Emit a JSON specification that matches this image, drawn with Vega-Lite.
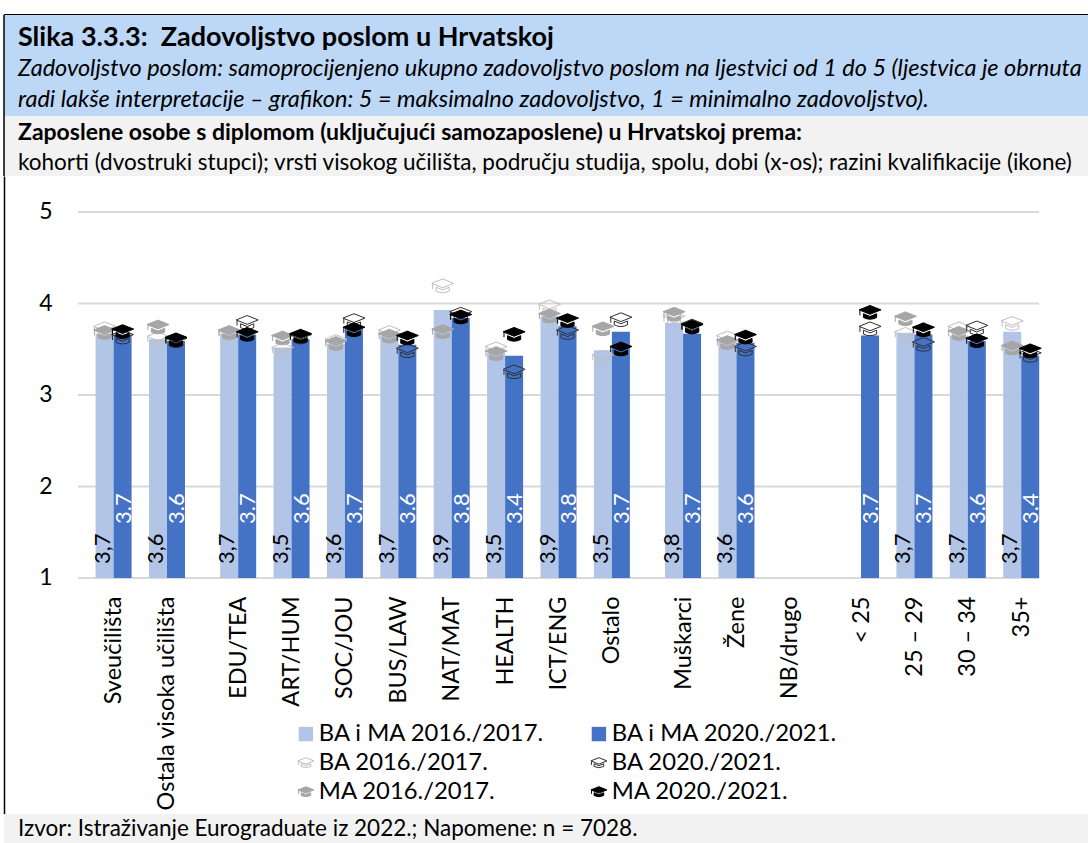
{"$schema":"https://vega.github.io/schema/vega-lite/v6.json","background":"white","padding":{"left":3,"top":13,"right":0,"bottom":0},"spacing":0,"bounds":"flush","config":{"view":{"stroke":null},"font":"Lato","text":{"font":"Lato"}},
"datasets":{"vals":[
{"cat":"Sveučilišta","series":"BA i MA 2016./2017.","value":3.67,"label":"3,7"},{"cat":"Sveučilišta","series":"BA i MA 2020./2021.","value":3.66,"label":"3.7"},{"cat":"Sveučilišta","series":"BA 2016./2017.","value":3.72},{"cat":"Sveučilišta","series":"MA 2016./2017.","value":3.68},{"cat":"Sveučilišta","series":"BA 2020./2021.","value":3.63},{"cat":"Sveučilišta","series":"MA 2020./2021.","value":3.69},
{"cat":"Ostala visoka učilišta","series":"BA i MA 2016./2017.","value":3.61,"label":"3,6"},{"cat":"Ostala visoka učilišta","series":"BA i MA 2020./2021.","value":3.59,"label":"3.6"},{"cat":"Ostala visoka učilišta","series":"BA 2016./2017.","value":3.61},{"cat":"Ostala visoka učilišta","series":"MA 2016./2017.","value":3.74},{"cat":"Ostala visoka učilišta","series":"BA 2020./2021.","value":3.59},{"cat":"Ostala visoka učilišta","series":"MA 2020./2021.","value":3.6},
{"cat":"EDU/TEA","series":"BA i MA 2016./2017.","value":3.67,"label":"3,7"},{"cat":"EDU/TEA","series":"BA i MA 2020./2021.","value":3.66,"label":"3.7"},{"cat":"EDU/TEA","series":"BA 2016./2017.","value":3.67},{"cat":"EDU/TEA","series":"MA 2016./2017.","value":3.68},{"cat":"EDU/TEA","series":"BA 2020./2021.","value":3.79},{"cat":"EDU/TEA","series":"MA 2020./2021.","value":3.66},
{"cat":"ART/HUM","series":"BA i MA 2016./2017.","value":3.52,"label":"3,5"},{"cat":"ART/HUM","series":"BA i MA 2020./2021.","value":3.61,"label":"3.6"},{"cat":"ART/HUM","series":"BA 2016./2017.","value":3.49},{"cat":"ART/HUM","series":"MA 2016./2017.","value":3.62},{"cat":"ART/HUM","series":"BA 2020./2021.","value":3.63},{"cat":"ART/HUM","series":"MA 2020./2021.","value":3.64},
{"cat":"SOC/JOU","series":"BA i MA 2016./2017.","value":3.56,"label":"3,6"},{"cat":"SOC/JOU","series":"BA i MA 2020./2021.","value":3.72,"label":"3.7"},{"cat":"SOC/JOU","series":"BA 2016./2017.","value":3.58},{"cat":"SOC/JOU","series":"MA 2016./2017.","value":3.56},{"cat":"SOC/JOU","series":"BA 2020./2021.","value":3.81},{"cat":"SOC/JOU","series":"MA 2020./2021.","value":3.71},
{"cat":"BUS/LAW","series":"BA i MA 2016./2017.","value":3.65,"label":"3,7"},{"cat":"BUS/LAW","series":"BA i MA 2020./2021.","value":3.55,"label":"3.6"},{"cat":"BUS/LAW","series":"BA 2016./2017.","value":3.68},{"cat":"BUS/LAW","series":"MA 2016./2017.","value":3.64},{"cat":"BUS/LAW","series":"BA 2020./2021.","value":3.48},{"cat":"BUS/LAW","series":"MA 2020./2021.","value":3.62},
{"cat":"NAT/MAT","series":"BA i MA 2016./2017.","value":3.93,"label":"3,9"},{"cat":"NAT/MAT","series":"BA i MA 2020./2021.","value":3.84,"label":"3.8"},{"cat":"NAT/MAT","series":"BA 2016./2017.","value":4.19},{"cat":"NAT/MAT","series":"MA 2016./2017.","value":3.69},{"cat":"NAT/MAT","series":"BA 2020./2021.","value":3.88},{"cat":"NAT/MAT","series":"MA 2020./2021.","value":3.85},
{"cat":"HEALTH","series":"BA i MA 2016./2017.","value":3.46,"label":"3,5"},{"cat":"HEALTH","series":"BA i MA 2020./2021.","value":3.43,"label":"3.4"},{"cat":"HEALTH","series":"BA 2016./2017.","value":3.5},{"cat":"HEALTH","series":"MA 2016./2017.","value":3.45},{"cat":"HEALTH","series":"BA 2020./2021.","value":3.25},{"cat":"HEALTH","series":"MA 2020./2021.","value":3.66},
{"cat":"ICT/ENG","series":"BA i MA 2016./2017.","value":3.86,"label":"3,9"},{"cat":"ICT/ENG","series":"BA i MA 2020./2021.","value":3.75,"label":"3.8"},{"cat":"ICT/ENG","series":"BA 2016./2017.","value":3.96},{"cat":"ICT/ENG","series":"MA 2016./2017.","value":3.86},{"cat":"ICT/ENG","series":"BA 2020./2021.","value":3.68},{"cat":"ICT/ENG","series":"MA 2020./2021.","value":3.81},
{"cat":"Ostalo","series":"BA i MA 2016./2017.","value":3.49,"label":"3,5"},{"cat":"Ostalo","series":"BA i MA 2020./2021.","value":3.69,"label":"3.7"},{"cat":"Ostalo","series":"BA 2016./2017.","value":3.41},{"cat":"Ostalo","series":"MA 2016./2017.","value":3.72},{"cat":"Ostalo","series":"BA 2020./2021.","value":3.82},{"cat":"Ostalo","series":"MA 2020./2021.","value":3.5},
{"cat":"Muškarci","series":"BA i MA 2016./2017.","value":3.79,"label":"3,8"},{"cat":"Muškarci","series":"BA i MA 2020./2021.","value":3.67,"label":"3.7"},{"cat":"Muškarci","series":"BA 2016./2017.","value":3.83},{"cat":"Muškarci","series":"MA 2016./2017.","value":3.88},{"cat":"Muškarci","series":"BA 2020./2021.","value":3.75},{"cat":"Muškarci","series":"MA 2020./2021.","value":3.74},
{"cat":"Žene","series":"BA i MA 2016./2017.","value":3.59,"label":"3,6"},{"cat":"Žene","series":"BA i MA 2020./2021.","value":3.57,"label":"3.6"},{"cat":"Žene","series":"BA 2016./2017.","value":3.62},{"cat":"Žene","series":"MA 2016./2017.","value":3.57},{"cat":"Žene","series":"BA 2020./2021.","value":3.5},{"cat":"Žene","series":"MA 2020./2021.","value":3.63},
{"cat":"< 25","series":"BA i MA 2020./2021.","value":3.65,"label":"3.7"},{"cat":"< 25","series":"BA 2020./2021.","value":3.72},{"cat":"< 25","series":"MA 2020./2021.","value":3.9},
{"cat":"25 – 29","series":"BA i MA 2016./2017.","value":3.68,"label":"3,7"},{"cat":"25 – 29","series":"BA i MA 2020./2021.","value":3.66,"label":"3.7"},{"cat":"25 – 29","series":"BA 2016./2017.","value":3.66},{"cat":"25 – 29","series":"MA 2016./2017.","value":3.83},{"cat":"25 – 29","series":"BA 2020./2021.","value":3.55},{"cat":"25 – 29","series":"MA 2020./2021.","value":3.71},
{"cat":"30 – 34","series":"BA i MA 2016./2017.","value":3.65,"label":"3,7"},{"cat":"30 – 34","series":"BA i MA 2020./2021.","value":3.59,"label":"3.6"},{"cat":"30 – 34","series":"BA 2016./2017.","value":3.72},{"cat":"30 – 34","series":"MA 2016./2017.","value":3.67},{"cat":"30 – 34","series":"BA 2020./2021.","value":3.73},{"cat":"30 – 34","series":"MA 2020./2021.","value":3.59},
{"cat":"35+","series":"BA i MA 2016./2017.","value":3.69,"label":"3,7"},{"cat":"35+","series":"BA i MA 2020./2021.","value":3.43,"label":"3.4"},{"cat":"35+","series":"BA 2016./2017.","value":3.78},{"cat":"35+","series":"MA 2016./2017.","value":3.51},{"cat":"35+","series":"BA 2020./2021.","value":3.43},{"cat":"35+","series":"MA 2020./2021.","value":3.48}
]},
"vconcat":[
{"width":1085,"height":1,"view":{"fill":"black","stroke":null},"data":{"values":[{"a":1}]},"mark":{"type":"rule","opacity":0},"encoding":{}},
{"width":1085,"height":101,"view":{"fill":"#BDD7F7","stroke":null},
"layer":[
{"data":{"values":[{"line":"a","text":"Slika 3.3.3:\u00a0 Zadovoljstvo poslom u Hrvatskoj"}]},"mark":{"type":"text","align":"left","baseline":"middle","font":"Lato","fontSize":27,"fontWeight":"bold","dx":14,"color":"black"},"encoding":{"x":{"datum":0,"type":"quantitative","scale":{"domain":[0,1]},"axis":null},"y":{"field":"line","type":"ordinal","scale":{"type":"point","padding":0,"domain":["a","b","c"],"range":[23,85]},"axis":null},"text":{"field":"text"}}},
{"data":{"values":[{"line":"b","text":"Zadovoljstvo poslom: samoprocijenjeno ukupno zadovoljstvo poslom na ljestvici od 1 do 5 (ljestvica je obrnuta"},{"line":"c","text":"radi lakše interpretacije – grafikon: 5 = maksimalno zadovoljstvo, 1 = minimalno zadovoljstvo)."}]},"mark":{"type":"text","align":"left","baseline":"middle","font":"Lato","fontSize":23.5,"fontStyle":"italic","dx":14,"color":"black"},"encoding":{"x":{"datum":0,"type":"quantitative","scale":{"domain":[0,1]},"axis":null},"y":{"field":"line","type":"ordinal","scale":{"type":"point","padding":0,"domain":["a","b","c"],"range":[23,85]},"axis":null},"text":{"field":"text"}}},
{"data":{"values":[{"a":1}]},"mark":{"type":"rule","color":"black","strokeWidth":1.5},"encoding":{"x":{"datum":0,"type":"quantitative","scale":{"domain":[0,1]},"axis":null}}}
]},
{"width":1085,"height":60,"view":{"fill":"#F2F2F2","stroke":null},
"layer":[
{"data":{"values":[{"line":"a","text":"Zaposlene osobe s diplomom (uključujući samozaposlene) u Hrvatskoj prema:"}]},"mark":{"type":"text","align":"left","baseline":"middle","font":"Lato","fontSize":23,"fontWeight":"bold","dx":14,"color":"black"},"encoding":{"x":{"datum":0,"type":"quantitative","scale":{"domain":[0,1]},"axis":null},"y":{"field":"line","type":"ordinal","scale":{"type":"point","padding":0,"domain":["a","b"],"range":[17,47]},"axis":null},"text":{"field":"text"}}},
{"data":{"values":[{"line":"b","text":"kohorti (dvostruki stupci); vrsti visokog učilišta, području studija, spolu, dobi (x-os); razini kvalifikacije (ikone)"}]},"mark":{"type":"text","align":"left","baseline":"middle","font":"Lato","fontSize":22.5,"dx":14,"color":"black"},"encoding":{"x":{"datum":0,"type":"quantitative","scale":{"domain":[0,1]},"axis":null},"y":{"field":"line","type":"ordinal","scale":{"type":"point","padding":0,"domain":["a","b"],"range":[17,47]},"axis":null},"text":{"field":"text"}}},
{"data":{"values":[{"a":1}]},"mark":{"type":"rule","color":"black","strokeWidth":1.5},"encoding":{"x":{"datum":0,"type":"quantitative","scale":{"domain":[0,1]},"axis":null}}}
]},
{"width":1085,"height":638,"view":{"fill":"white","stroke":null},"resolve":{"axis":{"y":"independent"}},
"layer":[
{"data":{"values":[{"level":1},{"level":2},{"level":3},{"level":4},{"level":5}]},"mark":{"type":"rule","color":"#D9D9D9","strokeWidth":2},"encoding":{"y":{"field":"level","type":"quantitative","scale":{"domain":[-1.579,5.393],"nice":false,"zero":false},"axis":{"values":[1,2,3,4,5],"format":"d","orient":"left","offset":-52,"domain":false,"ticks":false,"grid":false,"title":null,"labelFont":"Lato","labelFontSize":23,"labelColor":"black","labelPadding":4}},
"x":{"datum":"_a","type":"nominal","scale":{"type":"point","padding":0,"range":[74,1035],"domain":["_a","_b","Sveučilišta","_1","_2","Ostala visoka učilišta","_3","_4","_5","EDU/TEA","_6","_7","ART/HUM","_8","_9","SOC/JOU","_10","_11","BUS/LAW","_12","_13","NAT/MAT","_14","_15","HEALTH","_16","_17","ICT/ENG","_18","_19","Ostalo","_20","_21","_22","Muškarci","_23","_24","Žene","_25","_26","NB/drugo","_27","_28","_29","< 25","_30","_31","25 – 29","_32","_33","30 – 34","_34","_35","35+","_36"]},"axis":{"values":["Sveučilišta","Ostala visoka učilišta","EDU/TEA","ART/HUM","SOC/JOU","BUS/LAW","NAT/MAT","HEALTH","ICT/ENG","Ostalo","Muškarci","Žene","NB/drugo","< 25","25 – 29","30 – 34","35+"],"orient":"bottom","offset":-236,"domain":false,"ticks":false,"grid":false,"title":null,"labelAngle":-90,"labelAlign":"right","labelBaseline":"middle","labelFont":"Lato","labelFontSize":23.5,"labelColor":"black","labelPadding":18,"labelOverlap":false,"labelLimit":300,"labelFlush":false}},"x2":{"datum":"_36"}}},
{"data":{"values":[{"level":1}]},"mark":{"type":"rule","opacity":0},"encoding":{"x":{"datum":"_a","type":"nominal"},"y":{"field":"level","type":"quantitative","axis":{"orient":"left","offset":0,"domain":true,"domainColor":"black","domainWidth":1.5,"ticks":false,"labels":false,"grid":false,"title":null}}}},
{"data":{"name":"vals"},"transform":[{"filter":"datum.series==='BA i MA 2016./2017.'"}],"mark":{"type":"bar","width":18,"xOffset":-9,"color":"#B2C5E6"},"encoding":{"x":{"field":"cat","type":"nominal"},"y":{"field":"value","type":"quantitative","axis":null},"y2":{"datum":1}}},
{"data":{"name":"vals"},"transform":[{"filter":"datum.series==='BA i MA 2020./2021.'"}],"mark":{"type":"bar","width":18,"xOffset":9,"color":"#4472C4"},"encoding":{"x":{"field":"cat","type":"nominal"},"y":{"field":"value","type":"quantitative","axis":null},"y2":{"datum":1}}},
{"data":{"name":"vals"},"transform":[{"filter":"datum.series==='BA i MA 2016./2017.'"}],"mark":{"type":"text","angle":270,"align":"left","baseline":"middle","font":"Lato","fontSize":22,"color":"black","xOffset":-11},"encoding":{"x":{"field":"cat","type":"nominal"},"y":{"datum":1.153,"axis":null},"text":{"field":"label"}}},
{"data":{"name":"vals"},"transform":[{"filter":"datum.series==='BA i MA 2020./2021.'"}],"mark":{"type":"text","angle":270,"align":"left","baseline":"middle","font":"Lato","fontSize":22,"color":"white","xOffset":10},"encoding":{"x":{"field":"cat","type":"nominal"},"y":{"datum":1.59,"axis":null},"text":{"field":"label"}}},
{"data":{"name":"vals"},"transform":[{"filter":"datum.series==='BA 2016./2017.'||datum.series==='MA 2016./2017.'"}],"mark":{"type":"point","filled":true,"size":484,"strokeWidth":1,"opacity":1,"xOffset":-9},"encoding":{"x":{"field":"cat","type":"nominal"},"y":{"field":"value","type":"quantitative","axis":null},"shape":{"field":"series","type":"nominal"},"fill":{"field":"series","type":"nominal"},"stroke":{"field":"series","type":"nominal"}}},
{"data":{"name":"vals"},"transform":[{"filter":"datum.series==='BA 2020./2021.'||datum.series==='MA 2020./2021.'"}],"mark":{"type":"point","filled":true,"size":484,"strokeWidth":1,"opacity":1,"xOffset":9},"encoding":{"x":{"field":"cat","type":"nominal"},"y":{"field":"value","type":"quantitative","axis":null},
"shape":{"field":"series","type":"nominal","title":null,"scale":{"domain":["BA i MA 2016./2017.","BA 2016./2017.","MA 2016./2017.","BA i MA 2020./2021.","BA 2020./2021.","MA 2020./2021."],"range":["M-0.9,-0.9L0.9,-0.9L0.9,0.9L-0.9,0.9Z","M-1,-0.25L0,-0.65L1,-0.25L0,0.15Z M-0.6,0.1L0,0.35L0.6,0.1L0.6,0.45Q0,0.75-0.6,0.45Z M-0.92,-0.2L-0.92,0.25","M-1,-0.25L0,-0.65L1,-0.25L0,0.15Z M-0.6,0.1L0,0.35L0.6,0.1L0.6,0.45Q0,0.75-0.6,0.45Z M-0.92,-0.2L-0.92,0.25","M-0.9,-0.9L0.9,-0.9L0.9,0.9L-0.9,0.9Z","M-1,-0.25L0,-0.65L1,-0.25L0,0.15Z M-0.6,0.1L0,0.35L0.6,0.1L0.6,0.45Q0,0.75-0.6,0.45Z M-0.92,-0.2L-0.92,0.25","M-1,-0.25L0,-0.65L1,-0.25L0,0.15Z M-0.6,0.1L0,0.35L0.6,0.1L0.6,0.45Q0,0.75-0.6,0.45Z M-0.92,-0.2L-0.92,0.25"]},"legend":{"orient":"none","legendX":290,"legendY":708,"columns":2,"columnPadding":42,"rowPadding":4,"symbolSize":256,"symbolStrokeWidth":1,"labelFont":"Lato","labelFontSize":23.8,"labelColor":"black","labelOffset":1,"labelLimit":300,"title":null,"padding":0}},
"fill":{"field":"series","type":"nominal","title":null,"scale":{"domain":["BA i MA 2016./2017.","BA 2016./2017.","MA 2016./2017.","BA i MA 2020./2021.","BA 2020./2021.","MA 2020./2021."],"range":["#B2C5E6","transparent","#A6A6A6","#4472C4","transparent","#000000"]}},
"stroke":{"field":"series","type":"nominal","title":null,"scale":{"domain":["BA i MA 2016./2017.","BA 2016./2017.","MA 2016./2017.","BA i MA 2020./2021.","BA 2020./2021.","MA 2020./2021."],"range":["transparent","#BFBFBF","#A6A6A6","transparent","#2F2F2F","#000000"]}}}}
]},
{"width":1085,"height":30,"view":{"fill":"#F2F2F2","stroke":null},"data":{"values":[{"text":"Izvor: Istraživanje Eurograduate iz 2022.; Napomene: n = 7028."}]},"mark":{"type":"text","align":"left","baseline":"middle","font":"Lato","fontSize":22.5,"dx":14,"color":"black"},"encoding":{"x":{"datum":0,"type":"quantitative","scale":{"domain":[0,1]},"axis":null},"text":{"field":"text"}}}
]}
